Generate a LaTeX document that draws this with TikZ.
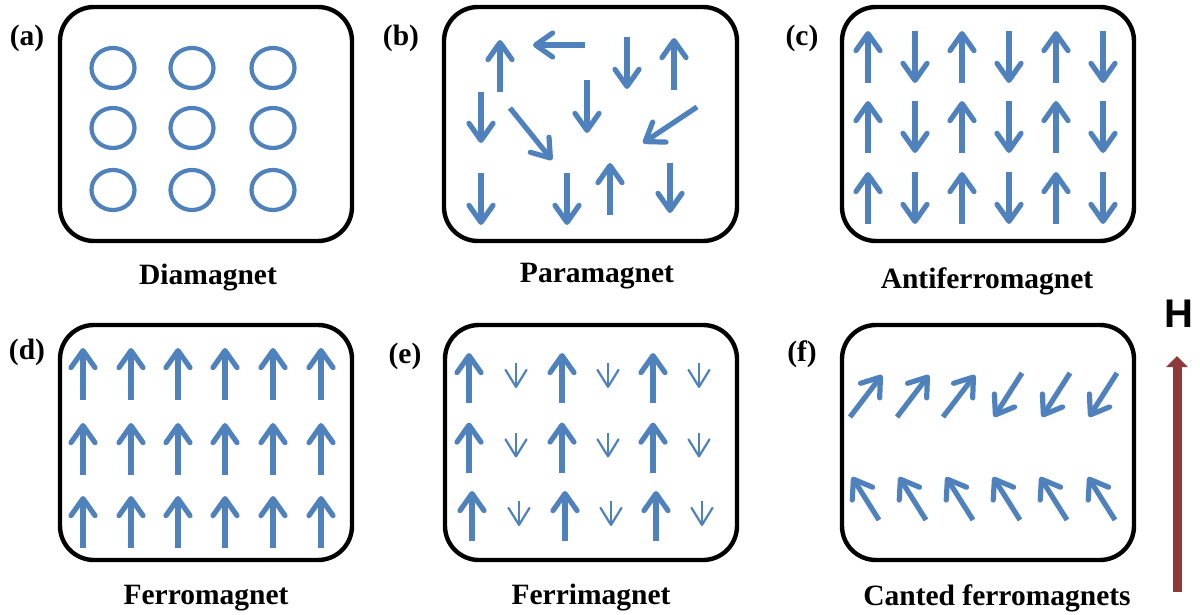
\documentclass[tikz,border=0pt]{standalone}
\usepackage{fontspec}
\setmainfont{Liberation Serif}
\newfontfamily\hfont{Liberation Sans}
\usetikzlibrary{arrows.meta}
\definecolor{spinblue}{HTML}{4F81BD}
\definecolor{fieldred}{HTML}{8E3A3A}
\begin{document}
\begin{tikzpicture}[x=0.5pt,y=-0.5pt,
  panel/.style={draw=black, line width=2.2pt, rounded corners=17pt},
  spin/.style={draw=spinblue, line width=2.6pt, -{Straight Barb[length=8.5pt,width=12pt,round]}},
  smallspin/.style={draw=spinblue, line width=1.1pt, -{Straight Barb[length=8.5pt,width=10.5pt,round]}},
  orbit/.style={draw=spinblue, line width=2.1pt},
  title/.style={font=\fontsize{14.75}{17}\selectfont\bfseries, anchor=base, inner sep=0pt},
  tag/.style={font=\fontsize{14.75}{17}\selectfont\bfseries, inner sep=0pt},
  field/.style={draw=fieldred, line width=4.5pt, -{Triangle[length=5.5pt,width=10.5pt]}}
]
\useasboundingbox (0,0) rectangle (1200,615);

% panels
\draw[panel] (60,7) rectangle (352,241);
\draw[panel] (444,7) rectangle (737,241);
\draw[panel] (842,7) rectangle (1134,241);
\draw[panel] (60,325) rectangle (352,560);
\draw[panel] (445,325) rectangle (737,560);
\draw[panel] (842,325) rectangle (1134,560);

% tags
\node[tag] (ta) at (27,38) {(a)};
\node[tag] (tb) at (401,38) {(b)};
\node[tag] (tc) at (802,38) {(c)};
\node[tag] (td) at (27,352) {(d)};
\node[tag] (te) at (405,356) {(e)};
\node[tag] (tf) at (802,354) {(f)};

% titles
\node[title] (na) at (208,285) {Diamagnet};
\node[title] (nb) at (597,282) {Paramagnet};
\node[title] (nc) at (987,288) {Antiferromagnet};
\node[title] (nd) at (206,604) {Ferromagnet};
\node[title] (ne) at (591,604) {Ferrimagnet};
\node[title] (nf) at (997,605) {Canted ferromagnets};

% (a) diamagnet
\foreach \x in {113,192,273}
  \foreach \y in {68,128,190}
    \draw[orbit] (\x,\y) ellipse [x radius=21.5, y radius=20];

% (b) paramagnet
\draw[spin] (500,92) -- (500,40);
\draw[spin] (585,45) -- (533,45);
\draw[spin] (627,37) -- (627,89);
\draw[spin] (674,90) -- (674,38);
\draw[spin] (481,92) -- (481,143);
\draw[spin] (510,108) -- (552,160);
\draw[spin] (587,80) -- (587,133);
\draw[spin] (697,107) -- (643,143);
\draw[spin] (481,173) -- (481,225);
\draw[spin] (567,173) -- (567,225);
\draw[spin] (610,215) -- (610,163);
\draw[spin] (670,163) -- (670,213);

% (c) antiferromagnet
\foreach \y in {57,127,198}{
  \foreach \x in {868,962,1056}
    \draw[spin] (\x,\y+26) -- (\x,\y-26);
  \foreach \x in {915,1009,1103}
    \draw[spin] (\x,\y-26) -- (\x,\y+26);
}

% (d) ferromagnet
\foreach \y in {374,449,522}
  \foreach \x in {83,131,178,225,273,321}
    \draw[spin] (\x,\y+26) -- (\x,\y-26);

% (e) ferrimagnet
\foreach \y/\s in {378/0,447.5/0,516/3}{
  \foreach \x in {469,562,653}
    \draw[spin] (\x+\s,\y+25) -- (\x+\s,\y-25);
  \foreach \x in {516,608,699}
    \draw[smallspin] (\x+\s,\y-15) -- (\x+\s,\y+10);
}

% (f) canted
\foreach \x in {850,897,943}
  \draw[spin] (\x,417) -- ++(32,-42);
\foreach \x in {1022,1070,1117}
  \draw[spin] (\x,373) -- ++(-28,44);
\foreach \x in {879,926,973,1020,1067,1115}
  \draw[spin] (\x,520) -- ++(-27,-43);

% field H
\coordinate (hbot) at (1177,592);
\coordinate (htop) at (1177,356);
\draw[field] (hbot) -- (htop);
\node[font=\hfont\fontsize{20}{24}\selectfont\bfseries, anchor=base, inner sep=0pt] (hl) at (1179,327) {H};
\end{tikzpicture}
\end{document}
